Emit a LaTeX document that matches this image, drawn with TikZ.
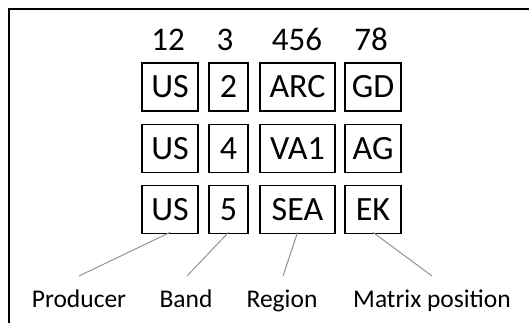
\documentclass[tikz,border=0pt]{standalone}
\usepackage{fontspec}
\setmainfont{Carlito}
\begin{document}
\begin{tikzpicture}[x=1pt,y=-1pt,
  cell/.style={draw=black,line width=1.8pt,minimum height=48pt,inner sep=0pt,font=\fontsize{34}{34}\selectfont,text height=21.5pt,text depth=0pt},
  head/.style={inner sep=0pt,font=\fontsize{33}{33}\selectfont,anchor=base},
  lab/.style={inner sep=0pt,font=\fontsize{25.5}{25.5}\selectfont,anchor=base},
  conn/.style={draw=gray!85,line width=1pt}]
\useasboundingbox (0,0) rectangle (529,323);
\draw[line width=1.5pt] (9,330) -- (9,9) -- (535,9);
\node[cell,minimum width=56pt] (a1) at (170,87) {US};
\node[cell,minimum width=39pt] (b1) at (228.5,87) {2};
\node[cell,minimum width=75pt] (c1) at (297.5,87) {ARC};
\node[cell,minimum width=56pt] (d1) at (373,87) {GD};
\node[cell,minimum width=56pt] (a2) at (170,148.5) {US};
\node[cell,minimum width=39pt] (b2) at (228.5,148.5) {4};
\node[cell,minimum width=75pt] (c2) at (297.5,148.5) {VA1};
\node[cell,minimum width=56pt] (d2) at (373,148.5) {AG};
\node[cell,minimum width=56pt] (a3) at (170,209.5) {US};
\node[cell,minimum width=39pt] (b3) at (228.5,209.5) {5};
\node[cell,minimum width=75pt] (c3) at (297.5,209.5) {SEA};
\node[cell,minimum width=56pt] (d3) at (373,209.5) {EK};
\node[head] (h1) at (168,51) {12};
\node[head] (h2) at (225,51) {3};
\node[head] (h3) at (297,51) {456};
\node[head] (h4) at (371,51) {78};
\node[lab] (l1) at (79,307) {Producer};
\node[lab] (l2) at (186,307) {Band};
\node[lab] (l3) at (282,307) {Region};
\node[lab] (l4) at (432,307) {Matrix position};
\coordinate (p1) at (79,276);
\coordinate (p2) at (187,276);
\coordinate (p3) at (283,276);
\coordinate (p4) at (432,276);
\draw[conn] ([yshift=2pt]a3.south) -- (p1);
\draw[conn] ([yshift=2pt]b3.south) -- (p2);
\draw[conn] ([yshift=2pt]c3.south) -- (p3);
\draw[conn] ([yshift=2pt]d3.south) -- (p4);
\end{tikzpicture}
\end{document}
